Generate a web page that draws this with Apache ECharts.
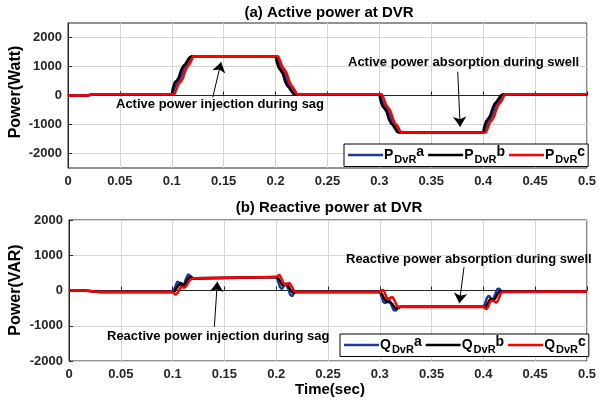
<!DOCTYPE html>
<html>
<head>
<meta charset="utf-8">
<script src="https://cdn.jsdelivr.net/npm/echarts@6/dist/echarts.min.js"></script>
<style>
html,body{margin:0;padding:0;background:#fff;}
#c{width:599px;height:405px;}
</style>
</head>
<body>
<div id="c"></div>
<script>
// ---------- DATA ----------
var xTicks = [0, 0.05, 0.1, 0.15, 0.2, 0.25, 0.3, 0.35, 0.4, 0.45, 0.5];
var yTicks = [-2000, -1000, 0, 1000, 2000];

// Active power (W) - [time(s), value]
var pA = [[0,0],[0.018,0],[0.025,40],[0.1,40],
  [0.1015,120],[0.1035,330],[0.1055,470],[0.1075,540],[0.1095,700],[0.1115,930],[0.1135,1060],[0.1155,1120],[0.1175,1250],[0.1195,1350],
  [0.2,1350],
  [0.2015,1280],[0.2035,1060],[0.2055,900],[0.2075,820],[0.2095,660],[0.2115,420],[0.2135,300],[0.2155,230],[0.2175,110],[0.2195,40],
  [0.3,40],
  [0.3015,-50],[0.3035,-260],[0.3055,-410],[0.3075,-480],[0.3095,-640],[0.3115,-870],[0.3135,-1000],[0.3155,-1060],[0.3175,-1180],[0.3195,-1280],
  [0.4,-1280],
  [0.4015,-1200],[0.4035,-990],[0.4055,-840],[0.4075,-770],[0.4095,-600],[0.4115,-370],[0.4135,-240],[0.4155,-180],[0.4175,-60],[0.4195,40],
  [0.5,40]];
var pB = [[0,0],[0.018,0],[0.025,40],[0.1,40],
  [0.101,250],[0.103,460],[0.105,520],[0.107,640],[0.109,880],[0.111,1010],[0.113,1080],[0.115,1200],[0.117,1310],[0.119,1350],
  [0.2,1350],
  [0.201,1180],[0.203,960],[0.205,860],[0.207,750],[0.209,500],[0.211,350],[0.213,270],[0.215,160],[0.217,60],[0.219,40],
  [0.3,40],
  [0.301,-160],[0.303,-370],[0.305,-450],[0.307,-560],[0.309,-800],[0.311,-950],[0.313,-1020],[0.315,-1130],[0.317,-1250],[0.319,-1280],
  [0.4,-1280],
  [0.401,-1080],[0.403,-880],[0.405,-800],[0.407,-680],[0.409,-440],[0.411,-290],[0.413,-210],[0.415,-100],[0.417,0],[0.419,40],
  [0.5,40]];
var pC = [[0,0],[0.018,0],[0.025,40],[0.1,40],
  [0.1025,40],[0.1045,220],[0.1065,400],[0.1085,480],[0.1105,580],[0.1125,800],[0.1145,980],[0.1165,1060],[0.1185,1180],[0.1205,1350],
  [0.2,1350],
  [0.2025,1350],[0.2045,1180],[0.2065,980],[0.2085,900],[0.2105,780],[0.2125,560],[0.2145,380],[0.2165,300],[0.2185,180],[0.2205,40],
  [0.3,40],
  [0.3025,40],[0.3045,-140],[0.3065,-330],[0.3085,-420],[0.3105,-520],[0.3125,-740],[0.3145,-930],[0.3165,-1010],[0.3185,-1120],[0.3205,-1280],
  [0.4,-1280],
  [0.4025,-1280],[0.4045,-1110],[0.4065,-920],[0.4085,-840],[0.4105,-730],[0.4125,-500],[0.4145,-320],[0.4165,-250],[0.4185,-130],[0.4205,40],
  [0.5,40]];

// Reactive power (VAR) - [time(s), value]
var qA = [[0,0],[0.015,0],[0.022,-20],[0.03,-45],[0.1,-45],
  [0.102,60],[0.1045,250],[0.1065,220],[0.1085,100],[0.1105,120],[0.1125,300],[0.115,460],[0.117,420],[0.119,330],[0.1205,350],
  [0.2,380],
  [0.2015,300],[0.2035,100],[0.2055,40],[0.2075,130],[0.2095,180],[0.2115,60],[0.2135,-120],[0.2155,-160],[0.2175,-60],[0.2195,-40],
  [0.3,-40],
  [0.3015,-150],[0.3035,-330],[0.3055,-360],[0.3075,-270],[0.3095,-280],[0.3115,-430],[0.3135,-560],[0.3155,-570],[0.3175,-490],[0.3195,-460],
  [0.4,-460],
  [0.4015,-380],[0.4035,-200],[0.4055,-150],[0.4075,-240],[0.4095,-250],[0.4115,-100],[0.4135,40],[0.4155,50],[0.4175,-30],[0.4195,-30],
  [0.5,-30]];
var qB = [[0,0],[0.015,0],[0.022,-20],[0.03,-45],[0.1,-45],
  [0.102,-20],[0.104,80],[0.106,160],[0.108,220],[0.110,150],[0.112,170],[0.114,280],[0.116,370],[0.118,380],[0.120,350],
  [0.2,380],
  [0.202,340],[0.204,250],[0.206,150],[0.208,160],[0.210,200],[0.212,120],[0.214,0],[0.216,-60],[0.218,-60],[0.22,-40],
  [0.3,-40],
  [0.302,-90],[0.304,-220],[0.306,-300],[0.308,-330],[0.310,-330],[0.312,-380],[0.314,-470],[0.316,-520],[0.318,-500],[0.32,-460],
  [0.4,-460],
  [0.402,-500],[0.404,-370],[0.406,-270],[0.408,-230],[0.410,-280],[0.412,-200],[0.414,-80],[0.416,-20],[0.418,-20],[0.42,-30],
  [0.5,-30]];
var qC = [[0,0],[0.015,0],[0.022,-20],[0.03,-45],[0.1,-45],
  [0.1015,-90],[0.103,-120],[0.105,-60],[0.107,60],[0.109,110],[0.111,80],[0.113,120],[0.115,220],[0.117,310],[0.1195,350],
  [0.2,380],
  [0.2015,430],[0.203,450],[0.2045,380],[0.2065,230],[0.2085,160],[0.2105,190],[0.2125,220],[0.2145,150],[0.2165,30],[0.2185,-40],[0.22,-40],
  [0.3,-40],
  [0.3015,10],[0.303,20],[0.3045,-40],[0.3065,-200],[0.3085,-250],[0.3105,-200],[0.3125,-190],[0.3145,-300],[0.3165,-430],[0.3185,-470],[0.32,-460],
  [0.4,-460],
  [0.4015,-510],[0.403,-530],[0.4045,-470],[0.4065,-330],[0.4085,-280],[0.4105,-310],[0.4125,-350],[0.4145,-260],[0.4165,-100],[0.4185,-40],[0.42,-30],
  [0.5,-30]];

// annotation arrows: [tailT, tailV, headT, headV]
var arrowsP = [[0.1395,-60,0.1475,1150],[0.3755,820,0.3778,-1075]];
var arrowsQ = [[0.1403,-1030,0.1432,250],[0.3813,660,0.3768,-360]];

var titles = ['(a) Active power at DVR', '(b) Reactive power at DVR'];
var yNames = ['Power(Watt)', 'Power(VAR)'];
var xName = 'Time(sec)';
var notes = ['Active power injection during sag', 'Active power absorption during swell',
             'Reactive power injection during sag', 'Reactive power absorption during swell'];
var legendNames = [['P','a'],['P','b'],['P','c'],['Q','a'],['Q','b'],['Q','c']];

// ---------- CHART ----------
var FONT = 'Liberation Sans, Arial, sans-serif';
var colors = ['#1f3a9a', '#000000', '#ff0000'];
var chart = echarts.init(document.getElementById('c'), null, {renderer: 'canvas'});

function xAxisCfg(gi) {
  return {
    type: 'value', gridIndex: gi, min: 0, max: 0.5, interval: 0.05,
    axisLine: {show: true, lineStyle: {color: '#262626', width: 1}},
    axisTick: {show: true, inside: true, length: 4, lineStyle: {color: '#262626'}},
    axisLabel: {fontFamily: FONT, fontWeight: 'bold', fontSize: 13, color: '#262626', margin: 7,
      formatter: function (v) { return String(+v.toFixed(2)); }},
    splitLine: {show: true, lineStyle: {color: '#d4d4d4', width: 1}}
  };
}
function yAxisCfg(gi, mn, mx) {
  return {
    type: 'value', gridIndex: gi, min: mn, max: mx, interval: 500,
    axisLine: {show: true, lineStyle: {color: '#262626', width: 1}},
    axisTick: {show: true, inside: true, length: 4, customValues: yTicks, lineStyle: {color: '#262626'}},
    axisLabel: {fontFamily: FONT, fontWeight: 'bold', fontSize: 13, color: '#262626', margin: 6, customValues: yTicks,
      formatter: function (v) { return String(Math.round(v)); }},
    splitLine: {show: true, lineStyle: {color: '#d4d4d4', width: 1}}
  };
}
function lineSeries(name, data, xi, ci, arrows) {
  var s = {
    name: name, type: 'line', xAxisIndex: xi, yAxisIndex: xi, data: data,
    showSymbol: false, symbol: 'none', animation: false,
    lineStyle: {color: colors[ci], width: 2.5}, itemStyle: {color: colors[ci]}
  };
  if (arrows) {
    s.markLine = {
      silent: true, animation: false,
      symbol: ['none', 'arrow'], symbolSize: [0, 10],
      label: {show: false},
      lineStyle: {color: '#000', width: 1, type: 'solid'},
      data: arrows.map(function (a) {
        return [{coord: [a[0], a[1]], symbol: 'none'}, {coord: [a[2], a[3]], symbol: 'arrow', symbolSize: 10}];
      })
    };
  }
  return s;
}
function legendFmt(name) {
  var idx = +name.slice(1);
  var ln = legendNames[idx];
  return '{m|' + ln[0] + '}{s|DvR}{p|' + ln[1] + '}';
}
var rich = {
  m: {fontFamily: FONT, fontWeight: 'bold', fontSize: 14, color: '#000', verticalAlign: 'middle'},
  s: {fontFamily: FONT, fontWeight: 'bold', fontSize: 11, color: '#000', padding: [10, 0, 0, 1]},
  p: {fontFamily: FONT, fontWeight: 'bold', fontSize: 14, color: '#000', padding: [0, 0, 6, 0]}
};
function legendCfg(names, left, top) {
  return {
    data: names, left: left, top: top, orient: 'horizontal',
    icon: 'rect', itemWidth: 35, itemHeight: 2.5, itemGap: 4,
    padding: [1, 3, 1, 4],
    borderColor: '#000', borderWidth: 1, backgroundColor: '#fff',
    borderRadius: 0,
    formatter: legendFmt,
    textStyle: {rich: rich, padding: [0, 0, 0, -4]},
    selectedMode: false
  };
}
var txtStyle = function (t, sz) {
  return {text: t, font: 'bold ' + sz + 'px ' + FONT, fill: '#000'};
};

var option = {
  backgroundColor: '#fff',
  animation: false,
  grid: [
    {left: 68, top: 23, width: 521, height: 145, show: true, borderColor: '#262626', borderWidth: 1},
    {left: 69, top: 220, width: 518, height: 141, show: true, borderColor: '#262626', borderWidth: 1}
  ],
  xAxis: [xAxisCfg(0), xAxisCfg(1)],
  yAxis: [yAxisCfg(0, -2500, 2500), yAxisCfg(1, -2000, 2000)],
  legend: [
    legendCfg(['i0', 'i1', 'i2'], 344, 144),
    legendCfg(['i3', 'i4', 'i5'], 340, 334)
  ],
  series: [
    lineSeries('i0', pA, 0, 0),
    lineSeries('i1', pB, 0, 1),
    lineSeries('i2', pC, 0, 2, arrowsP),
    lineSeries('i3', qA, 1, 0),
    lineSeries('i4', qB, 1, 1),
    lineSeries('i5', qC, 1, 2, arrowsQ)
  ],
  graphic: [
    {type: 'text', x: 329, y: 13, style: Object.assign(txtStyle(titles[0], 15), {align: 'center', verticalAlign: 'middle'})},
    {type: 'text', x: 329, y: 208, style: Object.assign(txtStyle(titles[1], 15), {align: 'center', verticalAlign: 'middle'})},
    {type: 'text', x: 16, y: 92, rotation: Math.PI / 2, style: Object.assign(txtStyle(yNames[0], 16), {align: 'center', verticalAlign: 'middle'})},
    {type: 'text', x: 16, y: 290, rotation: Math.PI / 2, style: Object.assign(txtStyle(yNames[1], 16), {align: 'center', verticalAlign: 'middle'})},
    {type: 'text', x: 330, y: 390, style: Object.assign(txtStyle(xName, 15), {align: 'center', verticalAlign: 'middle'})},
    {type: 'text', x: 116, y: 104, z: 10, style: Object.assign(txtStyle(notes[0], 13), {align: 'left', verticalAlign: 'middle'})},
    {type: 'text', x: 348, y: 62, z: 10, style: Object.assign(txtStyle(notes[1], 13), {align: 'left', verticalAlign: 'middle'})},
    {type: 'text', x: 107, y: 336, z: 10, style: Object.assign(txtStyle(notes[2], 13), {align: 'left', verticalAlign: 'middle'})},
    {type: 'text', x: 346, y: 259, z: 10, style: Object.assign(txtStyle(notes[3], 13), {align: 'left', verticalAlign: 'middle'})}
  ]
};
chart.setOption(option);
</script>
</body>
</html>
